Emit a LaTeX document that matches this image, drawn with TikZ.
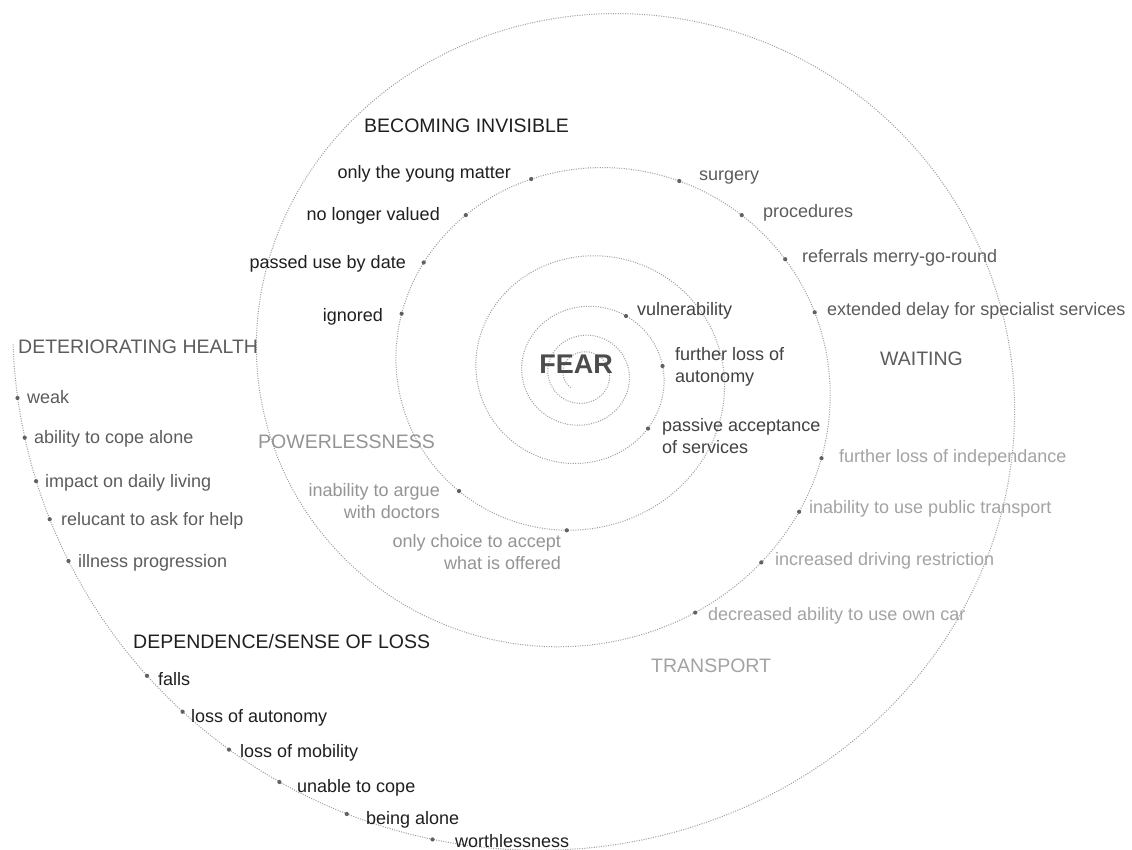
\documentclass[tikz,border=0pt]{standalone}
\usepackage{fontspec}
\setmainfont{Liberation Sans}

\begin{document}
\begin{tikzpicture}[x=1pt, y=-1pt,
  spiralline/.style={black!38, line width=1pt, dash pattern=on 1pt off 1.4pt},
  spdot/.style={circle, fill=black!62, inner sep=0pt, minimum size=4.2pt},
  lbl/.style={inner sep=0pt, font=\fontsize{18}{22}\selectfont},
  grouphead/.style={inner sep=0pt, font=\fontsize{19.5}{23}\selectfont},
  tInvisible/.style={text=black!88},
  tDepend/.style={text=black!88},
  tFear/.style={text=black!74},
  tHealth/.style={text=black!64},
  tWait/.style={text=black!64},
  tPower/.style={text=black!42},
  tTrans/.style={text=black!36}]
\useasboundingbox (0,0) rectangle (1132,849);
\fill[white] (0,0) rectangle (1132,849);
\draw[spiralline] plot[domain=-4:34.62, samples=1000, variable=\t]
  ({583+26.5*exp(0.0887*\t)*cos(\t r)}, {374+25.44*exp(0.0887*\t)*sin(\t r)});

\node[inner sep=0pt, font=\fontsize{27}{31}\selectfont\bfseries, text=black!70] (fear) at (576,364) {FEAR};
\node[spdot] (d-vuln) at (626,316) {};
\node[lbl, tFear, anchor=base west] (l-vuln) at (637,315) {vulnerability};
\node[spdot] (d-auto) at (662.5,366) {};
\node[lbl, tFear, anchor=west, align=left] (l-auto) at (675,366.5) {further loss of\\autonomy};
\node[spdot] (d-pass) at (648,428.5) {};
\node[lbl, tFear, anchor=west, align=left] (l-pass) at (662,436) {passive acceptance\\of services};

\node[grouphead, tInvisible, anchor=base west] (h-invisible) at (364,132) {BECOMING INVISIBLE};
\node[spdot] (d-young) at (531.2,179) {};
\node[lbl, tInvisible, anchor=base east] (l-young) at (511,178) {only the young matter};
\node[spdot] (d-valued) at (465.8,215.1) {};
\node[lbl, tInvisible, anchor=base east] (l-valued) at (440,220) {no longer valued};
\node[spdot] (d-passed) at (423.7,262.5) {};
\node[lbl, tInvisible, anchor=base east] (l-passed) at (406,268) {passed use by date};
\node[spdot] (d-ignored) at (401.6,313.7) {};
\node[lbl, tInvisible, anchor=base east] (l-ignored) at (383,321) {ignored};

\node[spdot] (d-surgery) at (679.3,181) {};
\node[lbl, tWait, anchor=base west] (l-surgery) at (699,180) {surgery};
\node[spdot] (d-proc) at (741.7,215.1) {};
\node[lbl, tWait, anchor=base west] (l-proc) at (763,217) {procedures};
\node[spdot] (d-refer) at (785.2,259.2) {};
\node[lbl, tWait, anchor=base west] (l-refer) at (802,262) {referrals merry-go-round};
\node[spdot] (d-delay) at (814.7,312.3) {};
\node[lbl, tWait, anchor=base west] (l-delay) at (827,315) {extended delay for specialist services};
\node[grouphead, tWait, anchor=base west] (h-waiting) at (880,365) {WAITING};

\node[grouphead, tHealth, anchor=base west] (h-health) at (18,353) {DETERIORATING HEALTH};
\node[spdot] (d-weak) at (17.5,398) {};
\node[lbl, tHealth, anchor=base west] (l-weak) at (27,403) {weak};
\node[spdot] (d-cope) at (24.7,437.7) {};
\node[lbl, tHealth, anchor=base west] (l-cope) at (34,443) {ability to cope alone};
\node[spdot] (d-impact) at (36.1,481.2) {};
\node[lbl, tHealth, anchor=base west] (l-impact) at (45,487) {impact on daily living};
\node[spdot] (d-help) at (49.7,519.2) {};
\node[lbl, tHealth, anchor=base west] (l-help) at (61,525) {relucant to ask for help};
\node[spdot] (d-illness) at (68.5,561) {};
\node[lbl, tHealth, anchor=base west] (l-illness) at (78,567) {illness progression};

\node[grouphead, tPower, anchor=base west] (h-power) at (258,448) {POWERLESSNESS};
\node[spdot] (d-argue) at (459,491) {};
\node[lbl, tPower, anchor=east, align=right] (l-argue) at (440,501) {inability to argue\\with doctors};
\node[spdot] (d-choice) at (566.8,530.3) {};
\node[lbl, tPower, anchor=east, align=right] (l-choice) at (561,552.5) {only choice to accept\\what is offered};

\node[spdot] (d-indep) at (821.5,458.2) {};
\node[lbl, tTrans, anchor=base west] (l-indep) at (839,462) {further loss of independance};
\node[spdot] (d-public) at (799.1,511.8) {};
\node[lbl, tTrans, anchor=base west] (l-public) at (809,513) {inability to use public transport};
\node[spdot] (d-driving) at (761.3,562.4) {};
\node[lbl, tTrans, anchor=base west] (l-driving) at (775,565) {increased driving restriction};
\node[spdot] (d-car) at (695.2,612.6) {};
\node[lbl, tTrans, anchor=base west] (l-car) at (708,620) {decreased ability to use own car};
\node[grouphead, tTrans, anchor=base west] (h-transport) at (651,672) {TRANSPORT};

\node[grouphead, tDepend, anchor=base west] (h-depend) at (133,648) {DEPENDENCE/SENSE OF LOSS};
\node[spdot] (d-falls) at (147,675.8) {};
\node[lbl, tDepend, anchor=base west] (l-falls) at (158,685) {falls};
\node[spdot] (d-auton) at (182.6,711.7) {};
\node[lbl, tDepend, anchor=base west] (l-auton) at (191,722) {loss of autonomy};
\node[spdot] (d-mobil) at (229,749.6) {};
\node[lbl, tDepend, anchor=base west] (l-mobil) at (240,757) {loss of mobility};
\node[spdot] (d-unable) at (279.4,782) {};
\node[lbl, tDepend, anchor=base west] (l-unable) at (297,792) {unable to cope};
\node[spdot] (d-alone) at (346.8,814) {};
\node[lbl, tDepend, anchor=base west] (l-alone) at (366,824) {being alone};
\node[spdot] (d-worth) at (432.5,839.4) {};
\node[lbl, tDepend, anchor=base west] (l-worth) at (455,847) {worthlessness};
\end{tikzpicture}
\end{document}
